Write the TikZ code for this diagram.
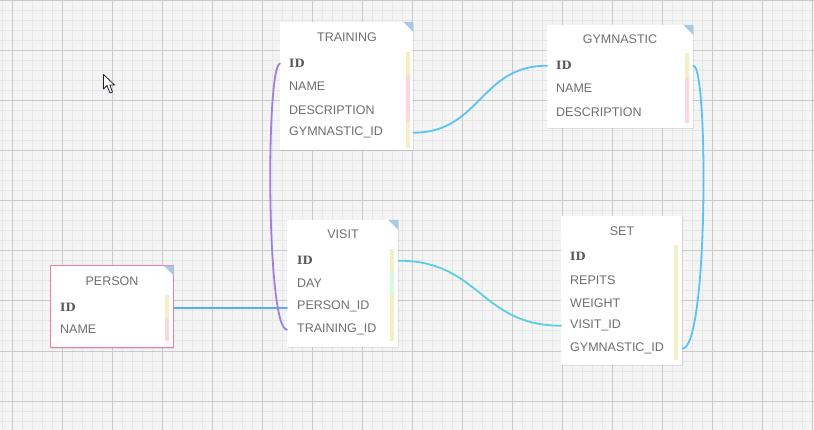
\documentclass[tikz,border=0pt]{standalone}
\usepackage{fontspec}
\setmainfont{Liberation Sans}
\newfontfamily\keyfont{DejaVu Serif}
\usetikzlibrary{shadows}

\definecolor{gridbg}{HTML}{F4F4F4}
\definecolor{gridminor}{HTML}{E6E6E6}
\definecolor{gridmajor}{HTML}{CACACA}
\definecolor{txtgray}{HTML}{6E6E6E}
\definecolor{keygray}{HTML}{585858}
\definecolor{corner}{HTML}{A8CAE6}
\definecolor{baryel}{HTML}{F3F0C6}
\definecolor{barpink}{HTML}{FDD8D8}
\definecolor{bargreen}{HTML}{D8FADC}
\definecolor{personrim}{HTML}{F07EA8}
\definecolor{lnblue}{HTML}{5AAEE8}
\definecolor{lnsky}{HTML}{5CC2F2}
\definecolor{lncyan}{HTML}{58D0E2}
\definecolor{lnpurple}{HTML}{9C82D8}
\definecolor{cursorink}{HTML}{1E1E2E}

\tikzset{
  tbl/.style={rectangle,fill=white,anchor=north west,inner sep=0pt,
    drop shadow={opacity=0.18,shadow xshift=0.6pt,shadow yshift=-1pt}},
  ttl/.style={inner sep=0pt,text=txtgray,font=\fontsize{12.5}{14}\selectfont},
  fld/.style={anchor=west,inner sep=0pt,yshift=-0.7pt,text=txtgray,font=\fontsize{12.5}{14}\selectfont},
  keyfld/.style={fld,text=keygray,font=\keyfont\bfseries\fontsize{11.5}{14}\selectfont},
  rel/.style={line width=1.8pt,line cap=round}
}

\begin{document}
\begin{tikzpicture}[x=1pt,y=-1pt,line join=round]
\useasboundingbox (0,0) rectangle (814,430);
% grid
\fill[gridbg] (0,0) rectangle (814,430);
\foreach \x in {2,12,...,812}
\draw[gridminor,line width=1pt] (\x,0) -- (\x,430);
\foreach \y in {1,11,...,421}
\draw[gridminor,line width=1pt] (0,\y) -- (814,\y);
\foreach \x in {12,62,...,812}
\draw[gridmajor,line width=1pt] (\x,0) -- (\x,430);
\foreach \y in {1,51,...,401}
\draw[gridmajor,line width=1pt] (0,\y) -- (814,\y);

% TRAINING
\node[tbl,minimum width=133pt,minimum height=128pt] (training) at (280,22) {};
\node[ttl] (training-title) at (347,37.5) {TRAINING};
\node[keyfld] (training-id) at (289,63) {ID};
\node[fld] (training-name) at (289,86) {NAME};
\node[fld] (training-desc) at (289,109) {DESCRIPTION};
\node[fld] (training-gym) at (289,132) {GYMNASTIC\_ID};
\fill[baryel] (406,52) rectangle (409.5,75);
\fill[barpink] (406,75) rectangle (409.5,122);
\fill[baryel] (406,122) rectangle (409.5,148);
\fill[corner] (training.north east) -- ++(-10,0) -- ++(10,10) -- cycle;

% GYMNASTIC
\node[tbl,minimum width=146pt,minimum height=103pt] (gymnastic) at (547,25) {};
\node[ttl] (gymnastic-title) at (620,39.5) {GYMNASTIC};
\node[keyfld] (gymnastic-id) at (556,65) {ID};
\node[fld] (gymnastic-name) at (556,88) {NAME};
\node[fld] (gymnastic-desc) at (556,111) {DESCRIPTION};
\fill[baryel] (685,53) rectangle (688.5,77);
\fill[barpink] (685,77) rectangle (688.5,123);
\fill[corner] (gymnastic.north east) -- ++(-10,0) -- ++(10,10) -- cycle;

% VISIT
\node[tbl,minimum width=111pt,minimum height=127pt] (visit) at (287,220) {};
\node[ttl] (visit-title) at (343,234.5) {VISIT};
\node[keyfld] (visit-id) at (297,260) {ID};
\node[fld] (visit-day) at (297,283) {DAY};
\node[fld] (visit-person) at (297,306) {PERSON\_ID};
\node[fld] (visit-training) at (297,329) {TRAINING\_ID};
\fill[baryel] (390,249) rectangle (393.5,272);
\fill[bargreen] (390,272) rectangle (393.5,295);
\fill[baryel] (390,295) rectangle (393.5,341);
\fill[corner] (visit.north east) -- ++(-10,0) -- ++(10,10) -- cycle;

% PERSON
\node[tbl,draw=personrim,line width=1.3pt,minimum width=123pt,minimum height=82pt] (person) at (50,265) {};
\node[ttl] (person-title) at (112,281.5) {PERSON};
\node[keyfld] (person-id) at (60,307) {ID};
\node[fld] (person-name) at (60,329) {NAME};
\fill[baryel] (165,295) rectangle (168.5,318);
\fill[barpink] (165,318) rectangle (168.5,341);
\fill[corner] ([xshift=-0.65pt,yshift=-0.65pt]person.north east) -- ++(-10,0) -- ++(10,10) -- cycle;

% SET
\node[tbl,minimum width=121pt,minimum height=149pt] (set) at (561,216) {};
\node[ttl] (set-title) at (622,231.5) {SET};
\node[keyfld] (set-id) at (570,256) {ID};
\node[fld] (set-repits) at (570,279) {REPITS};
\node[fld] (set-weight) at (570,302) {WEIGHT};
\node[fld] (set-visit) at (570,325) {VISIT\_ID};
\node[fld] (set-gym) at (570,348) {GYMNASTIC\_ID};
\fill[baryel] (674,245) rectangle (677.5,360);

% relations
\draw[rel,lnblue] (person.east |- person-id) -- (visit.west |- person-id);
\draw[rel,lnpurple] (training.west |- training-id) .. controls +(-14,0) and +(-21,0) .. (visit.west |- visit-training);
\draw[rel,lnsky] (training.east |- training-gym) .. controls +(67,0) and +(-67,0) .. (gymnastic.west |- gymnastic-id);
\draw[rel,lnsky] (gymnastic.east |- gymnastic-id) .. controls +(15,0) and +(26,0) .. (set.east |- set-gym);
\draw[rel,lncyan] (visit.east |- visit-id) .. controls +(82,0) and +(-81,0) .. (set.west |- set-visit);

% pointer
\filldraw[fill=white,draw=cursorink,line width=0.8pt] (103.5,74.5) -- (103.5,89) -- (107,85.5) -- (110,93) -- (112.5,92) -- (109.8,85) -- (114.5,85) -- cycle;
\end{tikzpicture}
\end{document}
